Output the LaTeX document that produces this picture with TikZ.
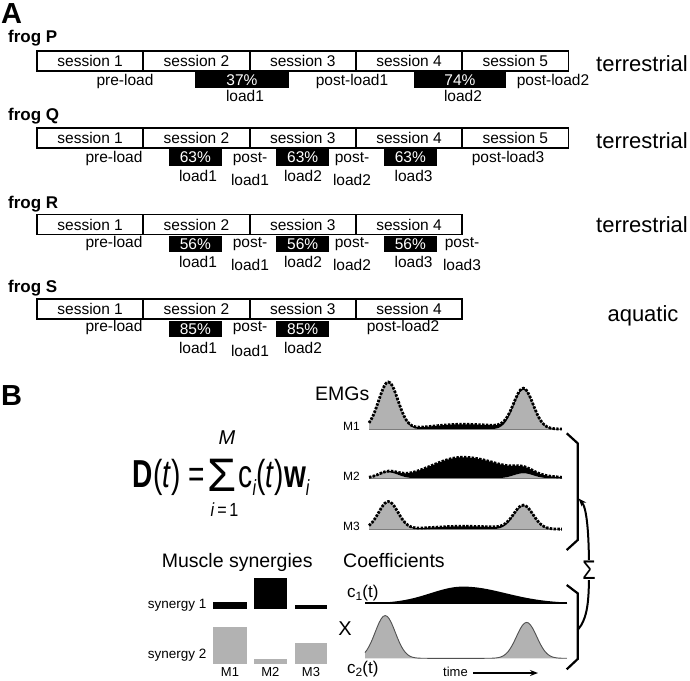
\documentclass[tikz,border=0pt]{standalone}
\usepackage{fontspec}
\setmainfont{Liberation Sans}
\usetikzlibrary{arrows.meta}
\definecolor{gfill}{RGB}{178,178,178}
\newcommand{\emgplot}[3]{%
  \fill[gfill] (369,#1) -- plot[domain=0:1,samples=101] ({369+193*\x},{#1-#2*cB(\x)}) -- (562,#1) -- cycle;
  \fill[black] plot[domain=0:1,samples=101] ({369+193*\x},{#1-#2*cB(\x)-#3*cA(\x)}) -- plot[domain=1:0,samples=101] ({369+193*\x},{#1-#2*cB(\x)}) -- cycle;
  \draw[gfill!70!black, line width=0.8pt] (369,#1) -- (562,#1);
  \draw[dotline] plot[domain=0:1,samples=101] ({369+193*\x},{#1-#2*cB(\x)-#3*cA(\x)});
}
\begin{document}
\begin{tikzpicture}[x=1pt,y=-1pt,
  declare function={
    cA(\u)=exp(-min(((\u-0.485)^2)/(2*(0.16+0.05*(\u>0.485))^2),9));
    cB(\u)=exp(-min(((\u-0.1)^2)/0.005,9))+0.84*exp(-min(((\u-0.8)^2)/0.005,9));
  },
  sess/.style={draw, line width=1.8pt, minimum width=106.3pt, minimum height=20pt, inner sep=0pt, font=\fontsize{15.5}{17}\selectfont},
  ldbox/.style={fill=black, text=white, inner sep=0pt, minimum height=16.5pt, font=\fontsize{15.5}{17}\selectfont},
  lbl/.style={anchor=base, inner sep=0pt, font=\fontsize{15.5}{17}\selectfont},
  frog/.style={anchor=base west, inner sep=0pt, font=\bfseries\fontsize{17}{19}\selectfont},
  env/.style={anchor=base, inner sep=0pt, font=\fontsize{22}{24}\selectfont},
  panel/.style={anchor=base west, inner sep=0pt, font=\bfseries\fontsize{29}{30}\selectfont},
  big/.style={inner sep=0pt, font=\fontsize{19.5}{21}\selectfont},
  small/.style={inner sep=0pt, font=\fontsize{13}{15}\selectfont},
  dotline/.style={line width=2.8pt, dash pattern=on 2.4pt off 1.4pt},
  brk/.style={line width=2.2pt},
  eqbig/.style={inner sep=0pt, font=\fontsize{39}{40}\selectfont, xscale=0.72},
]
\fill[white] (0,0) rectangle (690,680);
\useasboundingbox (0,0) rectangle (690,680);

% ---------------- Panel A ----------------
\node[panel] (A) at (1,23) {A};

% frog P
\node[frog] (fP) at (8,42) {frog P};
\foreach \i in {1,...,5} \node[sess] (P\i) at ({37+106.3*(\i-0.5)},61) {session \i};
\node[env] (PE) at (642,71) {terrestrial};
\node[lbl] (Ppre) at (125,85.5) {pre-load};
\node[ldbox, minimum width=94pt] (PL1) at (242,79.8) {37\%};
\node[lbl] (PL1t) at (245,101.5) {load1};
\node[lbl] (Ppo1) at (352,85.5) {post-load1};
\node[ldbox, minimum width=92pt] (PL2) at (460,79.8) {74\%};
\node[lbl] (PL2t) at (463,101.5) {load2};
\node[lbl] (Ppo2) at (553,85.5) {post-load2};

% frog Q
\node[frog] (fQ) at (8,120.5) {frog Q};
\foreach \i in {1,...,5} \node[sess] (Q\i) at ({37+106.3*(\i-0.5)},138.3) {session \i};
\node[env] (QE) at (642,148.3) {terrestrial};
\node[lbl] (Qpre) at (114,162.5) {pre-load};
\node[ldbox, minimum width=53pt] (QL1) at (195.3,157.6) {63\%};
\node[ldbox, minimum width=53pt] (QL2) at (302.7,157.6) {63\%};
\node[ldbox, minimum width=53pt] (QL3) at (410.3,157.6) {63\%};
\node[lbl] (QL1t) at (198,181.5) {load1};
\node[lbl] (QL2t) at (303,181.5) {load2};
\node[lbl] (QL3t) at (413.6,181.5) {load3};
\node[lbl] (Qpa) at (250,162.5) {post-};
\node[lbl] (Qpat) at (250,185) {load1};
\node[lbl] (Qpb) at (352,162.5) {post-};
\node[lbl] (Qpbt) at (352,185) {load2};
\node[lbl] (Qpc) at (508,162.5) {post-load3};

% frog R
\node[frog] (fR) at (8,208) {frog R};
\foreach \i in {1,...,4} \node[sess] (R\i) at ({37+106.3*(\i-0.5)},224.5) {session \i};
\node[env] (RE) at (642,232.7) {terrestrial};
\node[lbl] (Rpre) at (114,247) {pre-load};
\node[ldbox, minimum width=53pt] (RL1) at (195.3,244.2) {56\%};
\node[ldbox, minimum width=53pt] (RL2) at (302.7,244.2) {56\%};
\node[ldbox, minimum width=53pt] (RL3) at (410.3,244.2) {56\%};
\node[lbl] (RL1t) at (198,267.5) {load1};
\node[lbl] (RL2t) at (303,267.5) {load2};
\node[lbl] (RL3t) at (413.6,267.5) {load3};
\node[lbl] (Rpa) at (250,247) {post-};
\node[lbl] (Rpat) at (250,270.5) {load1};
\node[lbl] (Rpb) at (352,247) {post-};
\node[lbl] (Rpbt) at (352,270.5) {load2};
\node[lbl] (Rpc) at (462,247) {post-};
\node[lbl] (Rpct) at (462,270.5) {load3};

% frog S
\node[frog] (fS) at (8,292) {frog S};
\foreach \i in {1,...,4} \node[sess] (S\i) at ({37+106.3*(\i-0.5)},308.8) {session \i};
\node[env] (SE) at (643,321) {aquatic};
\node[lbl] (Spre) at (114,331.5) {pre-load};
\node[ldbox, minimum width=53pt] (SL1) at (195.3,329.2) {85\%};
\node[ldbox, minimum width=53pt] (SL2) at (302.7,329.2) {85\%};
\node[lbl] (SL1t) at (198,353.5) {load1};
\node[lbl] (SL2t) at (303,353.5) {load2};
\node[lbl] (Spa) at (250,331.5) {post-};
\node[lbl] (Spat) at (250,356.5) {load1};
\node[lbl] (Spb) at (403,331.5) {post-load2};

% ---------------- Panel B ----------------
\node[panel] (B) at (1,405) {B};

% equation
\node[eqbig, anchor=base east] (eqD) at (205,487) {\textbf{D}(\textit{t}) =};
\node[inner sep=0pt, anchor=base, font=\fontsize{47}{47}\selectfont] (eqS) at (222.5,491) {Σ};
\node[inner sep=0pt, anchor=base, font=\itshape\fontsize{20}{20}\selectfont] (eqM) at (227,444) {M};
\node[inner sep=0pt, anchor=base, font=\fontsize{19}{19}\selectfont, xscale=0.85] (eqI) at (224.5,516) {\textit{i}\,=\,1};
\node[eqbig, anchor=base west] (eqC) at (238.5,487) {c\raisebox{-0.22em}{\fontsize{22}{22}\selectfont\textit{i}}(\textit{t})\textbf{w}\raisebox{-0.22em}{\fontsize{22}{22}\selectfont\textit{i}}};

% EMGs
\node[big, anchor=base west] (emgt) at (315,400) {EMGs};
\node[small, anchor=base east, font=\fontsize{12}{14}\selectfont] (m1) at (360,430) {M1};
\node[small, anchor=base east, font=\fontsize{12}{14}\selectfont] (m2) at (360,480) {M2};
\node[small, anchor=base east, font=\fontsize{12}{14}\selectfont] (m3) at (360,530.7) {M3};
\emgplot{429.3}{47}{5}
\emgplot{478.3}{6}{21}
\emgplot{529.3}{27.6}{3}

% coefficients
\node[big, anchor=base west] (coef) at (343,567) {Coefficients};
\fill[black] (365,603.3) -- plot[domain=0:1,samples=101] ({365+202*\x},{603.3-16.7*cA(\x)}) -- (567,603.3) -- cycle;
\draw[line width=1.8pt] (365,603.3) -- (567,603.3);
\fill[gfill] (365,658.3) -- plot[domain=0:1,samples=101] ({365+202*\x},{658.3-42.7*cB(\x)}) -- (567,658.3) -- cycle;
\draw[gfill!45!black, line width=0.9pt] plot[domain=0:1,samples=101] ({365+202*\x},{658.3-42.7*cB(\x)});
\node[inner sep=0pt, anchor=base west, font=\fontsize{17}{19}\selectfont] (c1l) at (347,597) {c\raisebox{-0.2em}{\fontsize{12}{12}\selectfont 1}(t)};
\node[inner sep=0pt, anchor=base west, font=\fontsize{17}{19}\selectfont] (c2l) at (347,673.5) {c\raisebox{-0.2em}{\fontsize{12}{12}\selectfont 2}(t)};
\node[inner sep=0pt, anchor=base, font=\fontsize{20}{22}\selectfont] (X) at (345,635) {X};
\node[small, anchor=base west] (time) at (443,676) {time};
\coordinate (tstart) at (473.3,673);
\coordinate (tend) at (538,673);
\draw[line width=1.8pt, -{Stealth[length=8pt,width=6pt]}] (tstart) -- (tend);

% muscle synergies
\node[big, anchor=base west] (ms) at (161.7,567) {Muscle synergies};
\node[small, anchor=base east, font=\fontsize{13.5}{15}\selectfont] (sy1) at (206.7,608.3) {synergy 1};
\node[small, anchor=base east, font=\fontsize{13.5}{15}\selectfont] (sy2) at (206.7,658.3) {synergy 2};
\fill[black] (213.3,601.7) rectangle (246.7,609.3);
\fill[black] (254,578.3) rectangle (286.7,609.3);
\fill[black] (295,605) rectangle (326.7,609.3);
\fill[gfill] (213.3,627.3) rectangle (246.7,664);
\fill[gfill] (254,659.3) rectangle (286.7,664);
\fill[gfill] (295,643.3) rectangle (326.7,664);
\node[small, anchor=base] (bm1) at (230,676) {M1};
\node[small, anchor=base] (bm2) at (270.3,676) {M2};
\node[small, anchor=base] (bm3) at (311,676) {M3};

% brackets and sum arrow
\draw[brk] (566.7,433.3) -- (577.7,443.3) -- (577.7,540) -- (566.7,550);
\draw[brk] (566.7,585) -- (577.7,593.3) -- (577.7,659) -- (566.7,669.3);
\coordinate (lb) at (577.7,630);
\coordinate (ub) at (578.6,498.5);
\draw[line width=2pt, -{Stealth[length=8pt,width=6pt]}] (lb) .. controls (588,618) and (589,600) .. (589,570) .. controls (589,535) and (587,508) .. (ub);
\node[fill=white, inner sep=1pt, font=\fontsize{27}{27}\selectfont, xscale=0.8] (sig) at (589,570) {Σ};
\end{tikzpicture}
\end{document}
